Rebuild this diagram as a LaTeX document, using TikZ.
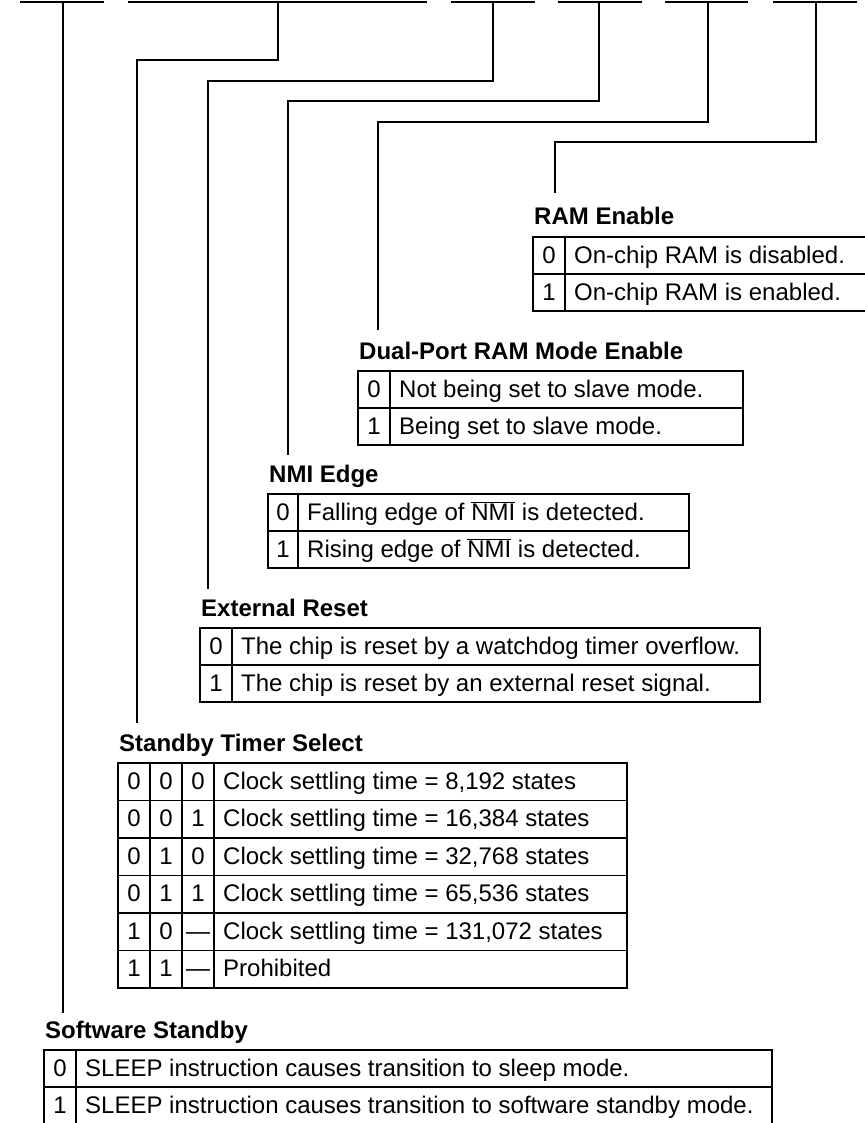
\documentclass[tikz,border=0pt]{standalone}
\usepackage{fontspec}
\setmainfont{Liberation Sans}
\begin{document}
\begin{tikzpicture}[
    x=1pt, y=-1pt,
    font=\fontsize{24}{28}\selectfont,
    title/.style={font=\fontsize{24}{28}\selectfont\bfseries,
                  anchor=base west, inner sep=0pt},
    celltext/.style={anchor=base west, inner sep=0pt},
    bitval/.style={anchor=base, inner sep=0pt},
    frame/.style={draw, line width=1.1pt},
    wire/.style={line width=1.2pt}
]
\useasboundingbox (0,0) rectangle (864,1123);

% --- REGISTER BITS ---
\foreach \a/\b in {20/104, 128/427, 451/535, 558/642, 665/748, 773/857}
  \draw[wire] (\a,2) -- (\b,2);
\coordinate (ssbyBit) at (63,2);
\coordinate (stsBit) at (278,2);
\coordinate (xrstBit) at (493,2);
\coordinate (nmiegBit) at (599,2);
\coordinate (dpmeBit) at (708,2);
\coordinate (rameBit) at (816,2);

% --- RAM Enable ---
\node[title] (rame) at (534,225) {RAM Enable};
\draw[frame] (533,237) rectangle (870,311);
\draw[frame] (533,274) -- (870,274) (565,237) -- (565,311);
\foreach \v/\txt [count=\i from 0] in {0/{On-chip RAM is disabled.}, 1/{On-chip RAM is enabled.}} {
  \node[bitval] (rame-v\i) at (549,263+37*\i) {\v};
  \node[celltext] (rame-t\i) at (574,263+37*\i) {\txt};
}

% --- Dual-Port RAM Mode Enable ---
\node[title] (dpme) at (359,359) {Dual-Port RAM Mode Enable};
\draw[frame] (358,371) rectangle (743,445);
\draw[frame] (358,408) -- (743,408) (390,371) -- (390,445);
\foreach \v/\txt [count=\i from 0] in {0/{Not being set to slave mode.}, 1/{Being set to slave mode.}} {
  \node[bitval] (dpme-v\i) at (374,397+37*\i) {\v};
  \node[celltext] (dpme-t\i) at (399,397+37*\i) {\txt};
}

% --- NMI Edge ---
\node[title] (nmieg) at (269,482) {NMI Edge};
\draw[frame] (268,494) rectangle (689,568);
\draw[frame] (268,531) -- (689,531) (298,494) -- (298,568);
\foreach \v/\txt [count=\i from 0] in {0/{Falling edge of $\overline{\mbox{NMI}}$ is detected.},
                                       1/{Rising edge of $\overline{\mbox{NMI}}$ is detected.}} {
  \node[bitval] (nmieg-v\i) at (283,520+37*\i) {\v};
  \node[celltext] (nmieg-t\i) at (307,520+37*\i) {\txt};
}

% --- External Reset ---
\node[title] (xrst) at (201,616) {External Reset};
\draw[frame] (200,628) rectangle (760,702);
\draw[frame] (200,665) -- (760,665) (232,628) -- (232,702);
\foreach \v/\txt [count=\i from 0] in {0/{The chip is reset by a watchdog timer overflow.},
                                       1/{The chip is reset by an external reset signal.}} {
  \node[bitval] (xrst-v\i) at (216,654+37*\i) {\v};
  \node[celltext] (xrst-t\i) at (241,654+37*\i) {\txt};
}

% --- Standby Timer Select ---
\node[title] (sts) at (119,751) {Standby Timer Select};
\draw[frame] (118,763) rectangle (627,988);
\foreach \r in {1,...,5}
  \draw[frame] (118,763+37.5*\r) -- (627,763+37.5*\r);
\foreach \c in {150,182,214}
  \draw[frame] (\c,763) -- (\c,988);
\foreach \a/\b/\c/\txt [count=\i from 0] in {
    0/0/0/{Clock settling time = 8,192 states},
    0/0/1/{Clock settling time = 16,384 states},
    0/1/0/{Clock settling time = 32,768 states},
    0/1/1/{Clock settling time = 65,536 states},
    1/0/—/{Clock settling time = 131,072 states},
    1/1/—/{Prohibited}} {
  \node[bitval] (sts-a\i) at (134,789+37.5*\i) {\a};
  \node[bitval] (sts-b\i) at (166,789+37.5*\i) {\b};
  \node[bitval] (sts-c\i) at (198,789+37.5*\i) {\c};
  \node[celltext] (sts-t\i) at (223,789+37.5*\i) {\txt};
}

% --- Software Standby ---
\node[title] (ssby) at (45,1038) {Software Standby};
\draw[frame] (44,1050) rectangle (772,1130);
\draw[frame] (44,1087) -- (772,1087) (76,1050) -- (76,1130);
\foreach \v/\txt [count=\i from 0] in {0/{SLEEP instruction causes transition to sleep mode.},
                                       1/{SLEEP instruction causes transition to software standby mode.}} {
  \node[bitval] (ssby-v\i) at (60,1076+37*\i) {\v};
  \node[celltext] (ssby-t\i) at (85,1076+37*\i) {\txt};
}

% --- CONNECTORS ---
\coordinate (stsTurn) at (137,60);
\coordinate (xrstTurn) at (208,81);
\coordinate (nmiegTurn) at (288,101);
\coordinate (dpmeTurn) at (378,122);
\coordinate (rameTurn) at (555,142);
\coordinate (ssbyEnd) at (63,1013);
\coordinate (stsEnd) at (137,723);
\coordinate (xrstEnd) at (208,589);
\coordinate (nmiegEnd) at (288,455);
\coordinate (dpmeEnd) at (378,330);
\coordinate (rameEnd) at (555,193);
\draw[wire] (ssbyBit) -- (ssbyEnd);
\foreach \n in {sts,xrst,nmieg,dpme,rame}
  \draw[wire] (\n Bit) |- (\n Turn) -- (\n End);

\end{tikzpicture}
\end{document}
